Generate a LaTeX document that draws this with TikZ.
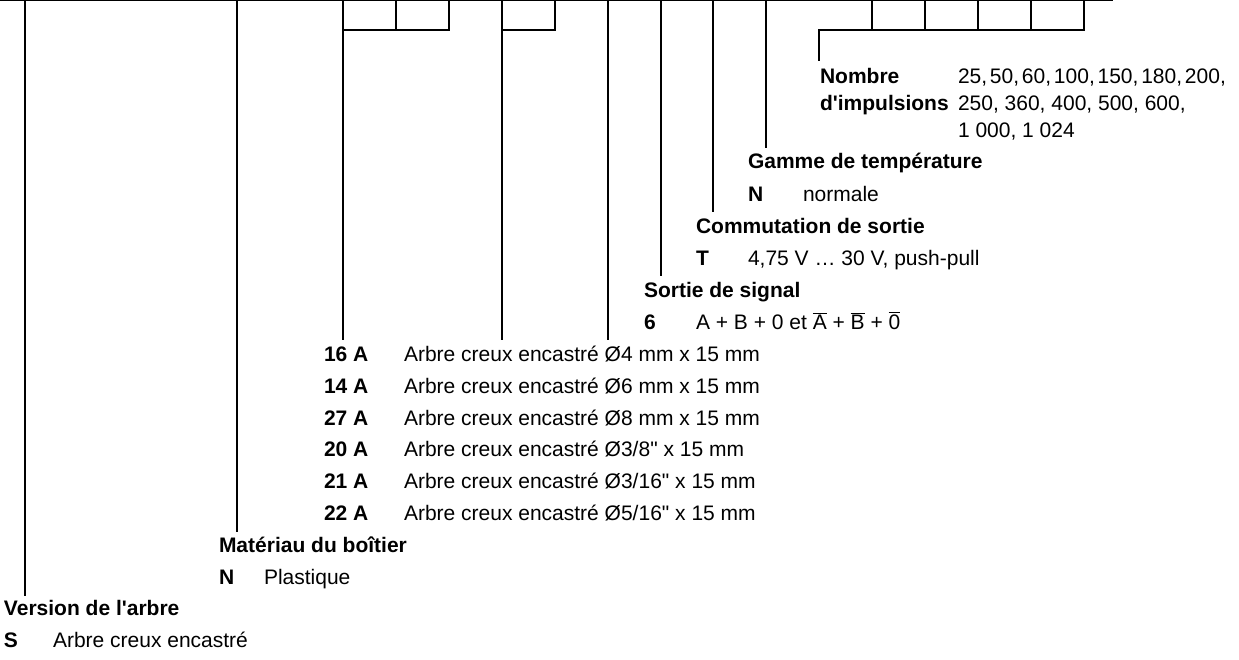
\documentclass[tikz,border=0pt]{standalone}
\usepackage{fontspec}
\setmainfont{Liberation Sans}
\newcommand\ovl[1]{\leavevmode\vbox{\hrule height 0.9pt\kern 1.6pt\hbox{#1}}}
\newcommand\tsp{\hspace{2.8pt}}
\begin{document}
\begin{tikzpicture}[x=1pt,y=-1pt,line width=2pt,
  txt/.style={anchor=base west,inner sep=0pt,font=\fontsize{21}{25}\selectfont},
  hd/.style={txt,font=\fontsize{21}{25}\selectfont\bfseries},
  rule/.style={line width=2pt,line join=miter,line cap=rect}]
\useasboundingbox (0,0) rectangle (1239,659);
% top line
\coordinate (L0) at (0,0.6);
\coordinate (L1) at (1113,0.6);
\draw[line width=1.6pt] (L0) -- (L1);
% top points
\coordinate (tVer) at (25,0);   \coordinate (eVer) at (25,595);
\coordinate (tMat) at (237,0);  \coordinate (eMat) at (237,531);
\coordinate (tA) at (343,0);    \coordinate (eA) at (343,339);
\coordinate (tA2) at (396,0);   \coordinate (bA2) at (396,30);
\coordinate (tA3) at (449,0);   \coordinate (bA3) at (449,30);
\coordinate (tB) at (502,0);    \coordinate (eB) at (502,339);
\coordinate (tB2) at (555,0);   \coordinate (bB2) at (555,30);
\coordinate (tC) at (608,0);    \coordinate (eC) at (608,339);
\coordinate (tSig) at (661,0);  \coordinate (eSig) at (661,275);
\coordinate (tCom) at (713,0);  \coordinate (eCom) at (713,211);
\coordinate (tGam) at (766,0);  \coordinate (eGam) at (766,147);
\coordinate (tN1) at (872,0);   \coordinate (bN1) at (872,30);
\coordinate (tN2) at (925,0);   \coordinate (bN2) at (925,30);
\coordinate (tN3) at (978,0);   \coordinate (bN3) at (978,30);
\coordinate (tN4) at (1031,0);  \coordinate (bN4) at (1031,30);
\coordinate (tN5) at (1084,0);  \coordinate (bN5) at (1084,30);
\coordinate (kN) at (819,30);   \coordinate (eN) at (819,60);
% connectors
\draw[rule] (tVer) -- (eVer);
\draw[rule] (tMat) -- (eMat);
\draw[rule] (tA3) -- (bA3) -- (tA |- bA3);
\draw[rule] (tA) -- (eA);
\draw[rule] (tA2) -- (bA2);
\draw[rule] (tB2) -- (bB2) -- (tB |- bB2);
\draw[rule] (tB) -- (eB);
\draw[rule] (tC) -- (eC);
\draw[rule] (tSig) -- (eSig);
\draw[rule] (tCom) -- (eCom);
\draw[rule] (tGam) -- (eGam);
\draw[rule] (tN5) -- (bN5) -- (kN) -- (eN);
\draw[rule] (tN1) -- (bN1);
\draw[rule] (tN2) -- (bN2);
\draw[rule] (tN3) -- (bN3);
\draw[rule] (tN4) -- (bN4);
% Nombre d'impulsions
\node[hd] (hImp1) at (819,83.5) {Nombre};
\node[hd] (hImp2) at (819,110.5) {d\textquotesingle impulsions};
\node[txt] (vImp1) at (957,83.5) {25,\tsp50,\tsp60,\tsp100,\tsp150,\tsp180,\tsp200,};
\node[txt] (vImp2) at (957,110.5) {250, 360, 400, 500, 600,};
\node[txt] (vImp3) at (957,137.5) {1 000, 1 024};
% Gamme
\node[hd] (hGam) at (747,168.5) {Gamme de température};
\node[hd] (cGam) at (747,201.5) {N};
\node[txt] (vGam) at (802,201.5) {normale};
% Commutation
\node[hd] (hCom) at (695,233.5) {Commutation de sortie};
\node[hd] (cCom) at (695,265.5) {T};
\node[txt] (vCom) at (747,265.5) {4,75 V … 30 V, push-pull};
% Sortie de signal
\node[hd] (hSig) at (643,297.5) {Sortie de signal};
\node[hd] (cSig) at (643,329.5) {6};
\node[txt] (vSig) at (695,329.5) {A + B + 0 et \ovl{A} + \ovl{B} + \ovl{0}};
% Arbre creux list
\node[hd] (c16) at (323,361.5) {16 A};
\node[txt] (v16) at (403,361.5) {Arbre creux encastré Ø4 mm x 15 mm};
\node[hd] (c14) at (323,393.5) {14 A};
\node[txt] (v14) at (403,393.5) {Arbre creux encastré Ø6 mm x 15 mm};
\node[hd] (c27) at (323,425.5) {27 A};
\node[txt] (v27) at (403,425.5) {Arbre creux encastré Ø8 mm x 15 mm};
\node[hd] (c20) at (323,456.5) {20 A};
\node[txt] (v20) at (403,456.5) {Arbre creux encastré Ø3/8\textquotedbl{} x 15 mm};
\node[hd] (c21) at (323,488.5) {21 A};
\node[txt] (v21) at (403,488.5) {Arbre creux encastré Ø3/16\textquotedbl{} x 15 mm};
\node[hd] (c22) at (323,520.5) {22 A};
\node[txt] (v22) at (403,520.5) {Arbre creux encastré Ø5/16\textquotedbl{} x 15 mm};
% Materiau
\node[hd] (hMat) at (218,552.5) {Matériau du boîtier};
\node[hd] (cMat) at (218,584.5) {N};
\node[txt] (vMat) at (263,584.5) {Plastique};
% Version
\node[hd] (hVer) at (3,615.5) {Version de l\textquotesingle arbre};
\node[hd] (cVer) at (3,647.5) {S};
\node[txt] (vVer) at (52,647.5) {Arbre creux encastré};
\end{tikzpicture}
\end{document}
